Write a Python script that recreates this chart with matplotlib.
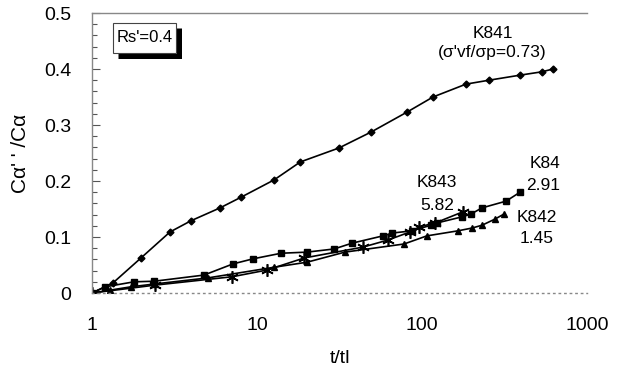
import matplotlib
matplotlib.use("Agg")
import matplotlib.pyplot as plt
from matplotlib.ticker import MultipleLocator, FixedLocator
from matplotlib.patches import Rectangle
from matplotlib.lines import Line2D

plt.rcParams['font.family'] = ['Liberation Sans', 'DejaVu Sans']

# K841 (diamonds)
k841_x = [1.0, 1.34, 1.98, 2.97, 3.98, 5.97, 8.0, 12.7, 18.3, 31.4, 49.2, 81.1, 116.6, 184.8, 254.8, 392.6, 533.6, 622.0]
k841_y = [0.0, 0.018, 0.0625, 0.109, 0.129, 0.152, 0.171, 0.202, 0.234, 0.259, 0.2875, 0.323, 0.350, 0.373, 0.380, 0.389, 0.395, 0.400]

# K84 (squares)
k84_x = [1.0, 1.2, 1.8, 2.38, 4.77, 7.16, 9.46, 14.0, 20.1, 29.3, 37.7, 58.0, 65.8, 87.0, 113.0, 123.0, 175.0, 198.0, 231.0, 323.0, 393.0]
k84_y = [0.0, 0.011, 0.020, 0.021, 0.032, 0.052, 0.061, 0.071, 0.073, 0.0786, 0.089, 0.102, 0.107, 0.111, 0.121, 0.125, 0.136, 0.141, 0.152, 0.164, 0.180]

# K842 (triangles)
k842_x = [1.0, 1.28, 1.72, 2.38, 5.05, 12.7, 20.1, 34.1, 77.8, 107.0, 165.0, 201.0, 231.0, 277.0, 314.0]
k842_y = [0.0, 0.005, 0.011, 0.016, 0.027, 0.046, 0.055, 0.073, 0.0875, 0.102, 0.111, 0.116, 0.121, 0.132, 0.141]

# K843 (asterisks)
k843_x = [1.0, 2.4, 7.06, 11.5, 19.3, 43.9, 62.2, 84.6, 95.9, 120.0, 177.0]
k843_y = [0.0, 0.014, 0.029, 0.041, 0.0625, 0.082, 0.0946, 0.109, 0.118, 0.125, 0.145]

x_ticks = [1, 10, 100, 1000]
x_tick_labels = ["1", "10", "100", "1000"]
y_ticks = [0, 0.1, 0.2, 0.3, 0.4, 0.5]
y_tick_labels = ["0", "0.1", "0.2", "0.3", "0.4", "0.5"]

W, H = 621, 367
fig = plt.figure(figsize=(6.21, 3.67), dpi=100)
ax_l, ax_b, ax_w, ax_h = 92 / W, 1 - 293 / H, (587 - 92) / W, (293 - 13) / H
ax = fig.add_axes([ax_l, ax_b, ax_w, ax_h])

lw = 1.2
ax.plot(k841_x, k841_y, color='black', lw=lw, marker='D', ms=3.5)
ax.plot(k84_x, k84_y, color='black', lw=lw, marker='s', ms=4.5)
ax.plot(k842_x, k842_y, color='black', lw=lw, marker='^', ms=4)
ax.plot(k843_x, k843_y, color='black', lw=lw, marker=(6, 2, 0), ms=9, mew=1.2)

ax.set_xscale('log')
ax.set_xlim(1, 1000)
ax.set_ylim(0, 0.5)
ax.xaxis.set_major_locator(FixedLocator(x_ticks))
ax.set_xticks(x_ticks)
ax.set_xticklabels(x_tick_labels)
ax.xaxis.set_minor_locator(FixedLocator([]))
ax.set_yticks(y_ticks)
ax.set_yticklabels(y_tick_labels)
ax.yaxis.set_minor_locator(MultipleLocator(0.02))

ax.tick_params(axis='x', which='both', length=0, labelsize=14, pad=17)
ax.tick_params(axis='y', which='major', direction='in', length=6, width=0.8, color='#555555', labelsize=14, pad=15)
ax.tick_params(axis='y', which='minor', direction='in', length=3.5, width=0.8, color='#555555')

for s in ['left', 'top']:
    ax.spines[s].set_color('#888888')
    ax.spines[s].set_linewidth(1.0)
ax.spines['right'].set_visible(False)
ax.spines['bottom'].set_color('#888888')
ax.spines['bottom'].set_linestyle((0, (1, 3)))
ax.spines['bottom'].set_linewidth(1.0)

ax.set_xlabel("t/tl", fontsize=14, labelpad=12)
ax.set_ylabel("C\u03b1' ' /C\u03b1", fontsize=15, labelpad=10)

# Rs' box with shadow, placed in axes-fraction coordinates
def px2ax(xp, yp):
    return ((xp - 92) / (587 - 92), (293 - yp) / (293 - 13))

bx0, by0, bx1, by1 = 113, 23, 176, 53
off = 2.5
# shadow: thick black strokes along the right and bottom edges
xa, ya = px2ax(bx1 + off, by0 + 2 * off)
xb, yb = px2ax(bx1 + off, by1 + off)
xc, yc = px2ax(bx0 + 2 * off, by1 + off)
shadow = Line2D([xa, xb, xc], [ya, yb, yc], transform=ax.transAxes, color='black',
                lw=3.6, solid_joinstyle='miter', solid_capstyle='butt', zorder=10, clip_on=False)
ax.add_line(shadow)
bx, by = px2ax(bx0, by1)
sw = (bx1 - bx0) / (587 - 92)
sh = (by1 - by0) / (293 - 13)
ax.add_patch(Rectangle((bx, by), sw, sh, transform=ax.transAxes,
                       facecolor='white', edgecolor='#444444', lw=0.8, zorder=11, clip_on=False))
cx, cy = px2ax((bx0 + bx1) / 2, (by0 + by1) / 2)
ax.text(cx, cy, "Rs'=0.4", transform=ax.transAxes, fontsize=12,
        ha='center', va='center', zorder=12)

def ann(xp, yp, s):
    fig.text(xp / W, 1 - yp / H, s, fontsize=12.5, ha='center', va='center')

ann(493, 33, "K841")
ann(492, 53, "(\u03c3'vf/\u03c3p=0.73)")
ann(545, 163, "K84")
ann(543, 185, "2.91")
ann(437, 183, "K843")
ann(437, 205, "5.82")
ann(537, 218, "K842")
ann(537, 239, "1.45")

fig.savefig("out.png", dpi=100)
